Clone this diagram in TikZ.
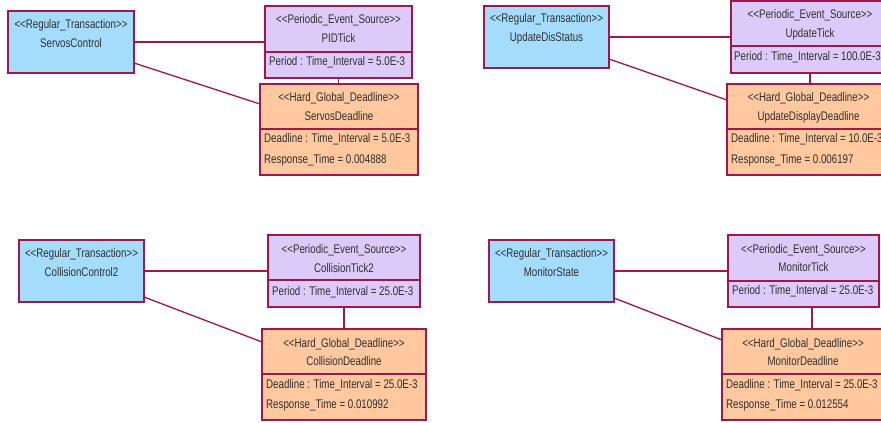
\documentclass[tikz,border=0pt]{standalone}
\usepackage{fontspec}
\setmainfont{Liberation Sans}[FakeStretch=0.78]
\usetikzlibrary{positioning}
\definecolor{umlred}{HTML}{A3164B}
\definecolor{transblue}{HTML}{A4DCFC}
\definecolor{pesviolet}{HTML}{DCCAF9}
\definecolor{dlorange}{HTML}{FFC89F}
\definecolor{txtgray}{HTML}{303030}
% stereotype brackets, kept apart so that no guillemet is formed
\newcommand{\stereo}[1]{<\kern0pt<#1>\kern0pt>}
\begin{document}
\begin{tikzpicture}[x=1pt,y=-1pt,
    umlbox/.style={draw=umlred, line width=1.8pt, outer sep=0pt, inner sep=0pt, anchor=north west},
    txt/.style={inner sep=0pt, text=txtgray, font=\fontsize{12.5}{15}\selectfont, anchor=base},
    attr/.style={txt, anchor=base west},
    link/.style={draw=umlred, line width=1.3pt}]
                    \useasboundingbox (0,0) rectangle (881,423);
                    \clip (0,0) rectangle (881,423);
                    {

                    % Transaction ServosControl
                    \node [umlbox, fill=transblue, minimum width=126, minimum height=62] (trans1) at (8,11) {};%
                    \node [txt] (trans1s) at (71,28) {\stereo{Regular\_Transaction}};%
                    \node [txt] (trans1n) at (71,47) {ServosControl};%

                    % Event source PIDTick
                    \node [umlbox, fill=pesviolet, minimum width=147, minimum height=46] (pes1) at (265,6) {};%
                    \node [umlbox, fill=pesviolet, minimum width=147, minimum height=26, below=0pt of pes1] (pes1a) {};%
                    \node [txt] (pes1s) at (338.5,23.5) {\stereo{Periodic\_Event\_Source}};%
                    \node [txt] (pes1n) at (338.5,42.5) {PIDTick};%
                    \node [attr] (pes1p) at (269,65.5) {Period : Time\_Interval = 5.0E-3};%

                    % Deadline ServosDeadline
                    \node [umlbox, fill=dlorange, minimum width=158, minimum height=45] (dl1) at (260,84) {};%
                    \node [umlbox, fill=dlorange, minimum width=158, minimum height=46, below=0pt of dl1] (dl1a) {};%
                    \node [txt] (dl1s) at (339,101.5) {\stereo{Hard\_Global\_Deadline}};%
                    \node [txt] (dl1n) at (339,120.5) {ServosDeadline};%
                    \node [attr] (dl1d) at (264,142.5) {Deadline : Time\_Interval = 5.0E-3};%
                    \node [attr] (dl1r) at (264,163.5) {Response\_Time = 0.004888};%

                    % Links of ServosControl
                    \draw [link] (trans1.east) -- (trans1.east -| pes1.west);%
                    \draw [link] ([yshift=-21pt]trans1.east) -- ([yshift=-20pt]dl1.north west);%
                    \draw [link] (pes1a.south) -- (pes1a.south |- dl1.north);%

                    % Transaction UpdateDisStatus
                    \node [umlbox, fill=transblue, minimum width=125, minimum height=62] (trans2) at (484,6) {};%
                    \node [txt] (trans2s) at (546.5,23) {\stereo{Regular\_Transaction}};%
                    \node [txt] (trans2n) at (546.5,41) {UpdateDisStatus};%

                    % Event source UpdateTick
                    \node [umlbox, fill=pesviolet, minimum width=158, minimum height=45] (pes2) at (731,1) {};%
                    \node [umlbox, fill=pesviolet, minimum width=158, minimum height=27, below=0pt of pes2] (pes2a) {};%
                    \node [txt] (pes2s) at (810,18) {\stereo{Periodic\_Event\_Source}};%
                    \node [txt] (pes2n) at (810,37) {UpdateTick};%
                    \node [attr] (pes2p) at (734,60) {Period : Time\_Interval = 100.0E-3};%

                    % Deadline UpdateDisplayDeadline
                    \node [umlbox, fill=dlorange, minimum width=163, minimum height=45] (dl2) at (727,84) {};%
                    \node [umlbox, fill=dlorange, minimum width=163, minimum height=46, below=0pt of dl2] (dl2a) {};%
                    \node [txt] (dl2s) at (808.5,101.5) {\stereo{Hard\_Global\_Deadline}};%
                    \node [txt] (dl2n) at (808.5,120.5) {UpdateDisplayDeadline};%
                    \node [attr] (dl2d) at (731,142.5) {Deadline : Time\_Interval = 10.0E-3};%
                    \node [attr] (dl2r) at (731,163.5) {Response\_Time = 0.006197};%

                    % Links of UpdateDisStatus
                    \draw [link] (trans2.east) -- (trans2.east -| pes2.west);%
                    \draw [link] ([yshift=-22pt]trans2.east) -- ([yshift=-16pt]dl2.north west);%
                    \draw [link] (pes2a.south) -- (pes2a.south |- dl2.north);%

                    % Transaction CollisionControl2
                    \node [umlbox, fill=transblue, minimum width=125, minimum height=62] (trans3) at (19,240) {};%
                    \node [txt] (trans3s) at (81.5,257) {\stereo{Regular\_Transaction}};%
                    \node [txt] (trans3n) at (81.5,276) {CollisionControl2};%

                    % Event source CollisionTick2
                    \node [umlbox, fill=pesviolet, minimum width=152, minimum height=45] (pes3) at (268,235) {};%
                    \node [umlbox, fill=pesviolet, minimum width=152, minimum height=27, below=0pt of pes3] (pes3a) {};%
                    \node [txt] (pes3s) at (344,253) {\stereo{Periodic\_Event\_Source}};%
                    \node [txt] (pes3n) at (344,272) {CollisionTick2};%
                    \node [attr] (pes3p) at (272,295.5) {Period : Time\_Interval = 25.0E-3};%

                    % Deadline CollisionDeadline
                    \node [umlbox, fill=dlorange, minimum width=164, minimum height=45] (dl3) at (262,329) {};%
                    \node [umlbox, fill=dlorange, minimum width=164, minimum height=46, below=0pt of dl3] (dl3a) {};%
                    \node [txt] (dl3s) at (344,347) {\stereo{Hard\_Global\_Deadline}};%
                    \node [txt] (dl3n) at (344,365.5) {CollisionDeadline};%
                    \node [attr] (dl3d) at (266,388.5) {Deadline : Time\_Interval = 25.0E-3};%
                    \node [attr] (dl3r) at (266,408.5) {Response\_Time = 0.010992};%

                    % Links of CollisionControl2
                    \draw [link] (trans3.east) -- (trans3.east -| pes3.west);%
                    \draw [link] ([yshift=-26pt]trans3.east) -- ([yshift=-13pt]dl3.north west);%
                    \draw [link] (pes3a.south) -- (pes3a.south |- dl3.north);%

                    % Transaction MonitorState
                    \node [umlbox, fill=transblue, minimum width=125, minimum height=62] (trans4) at (489,240) {};%
                    \node [txt] (trans4s) at (551.5,257) {\stereo{Regular\_Transaction}};%
                    \node [txt] (trans4n) at (551.5,276) {MonitorState};%

                    % Event source MonitorTick
                    \node [umlbox, fill=pesviolet, minimum width=151, minimum height=46] (pes4) at (728,235) {};%
                    \node [umlbox, fill=pesviolet, minimum width=151, minimum height=26, below=0pt of pes4] (pes4a) {};%
                    \node [txt] (pes4s) at (803.5,253) {\stereo{Periodic\_Event\_Source}};%
                    \node [txt] (pes4n) at (803.5,271) {MonitorTick};%
                    \node [attr] (pes4p) at (732,294.5) {Period : Time\_Interval = 25.0E-3};%

                    % Deadline MonitorDeadline
                    \node [umlbox, fill=dlorange, minimum width=164, minimum height=45] (dl4) at (722,329) {};%
                    \node [umlbox, fill=dlorange, minimum width=164, minimum height=46, below=0pt of dl4] (dl4a) {};%
                    \node [txt] (dl4s) at (803,347) {\stereo{Hard\_Global\_Deadline}};%
                    \node [txt] (dl4n) at (803,365.5) {MonitorDeadline};%
                    \node [attr] (dl4d) at (726,388.5) {Deadline : Time\_Interval = 25.0E-3};%
                    \node [attr] (dl4r) at (726,408.5) {Response\_Time = 0.012554};%

                    % Links of MonitorState
                    \draw [link] (trans4.east) -- (trans4.east -| pes4.west);%
                    \draw [link] ([yshift=-27pt]trans4.east) -- ([yshift=-11pt]dl4.north west);%
                    \draw [link] ([xshift=8.5pt]pes4a.south) -- ([xshift=8.5pt]pes4a.south |- dl4.north);%
                    }
\end{tikzpicture}
\end{document}
